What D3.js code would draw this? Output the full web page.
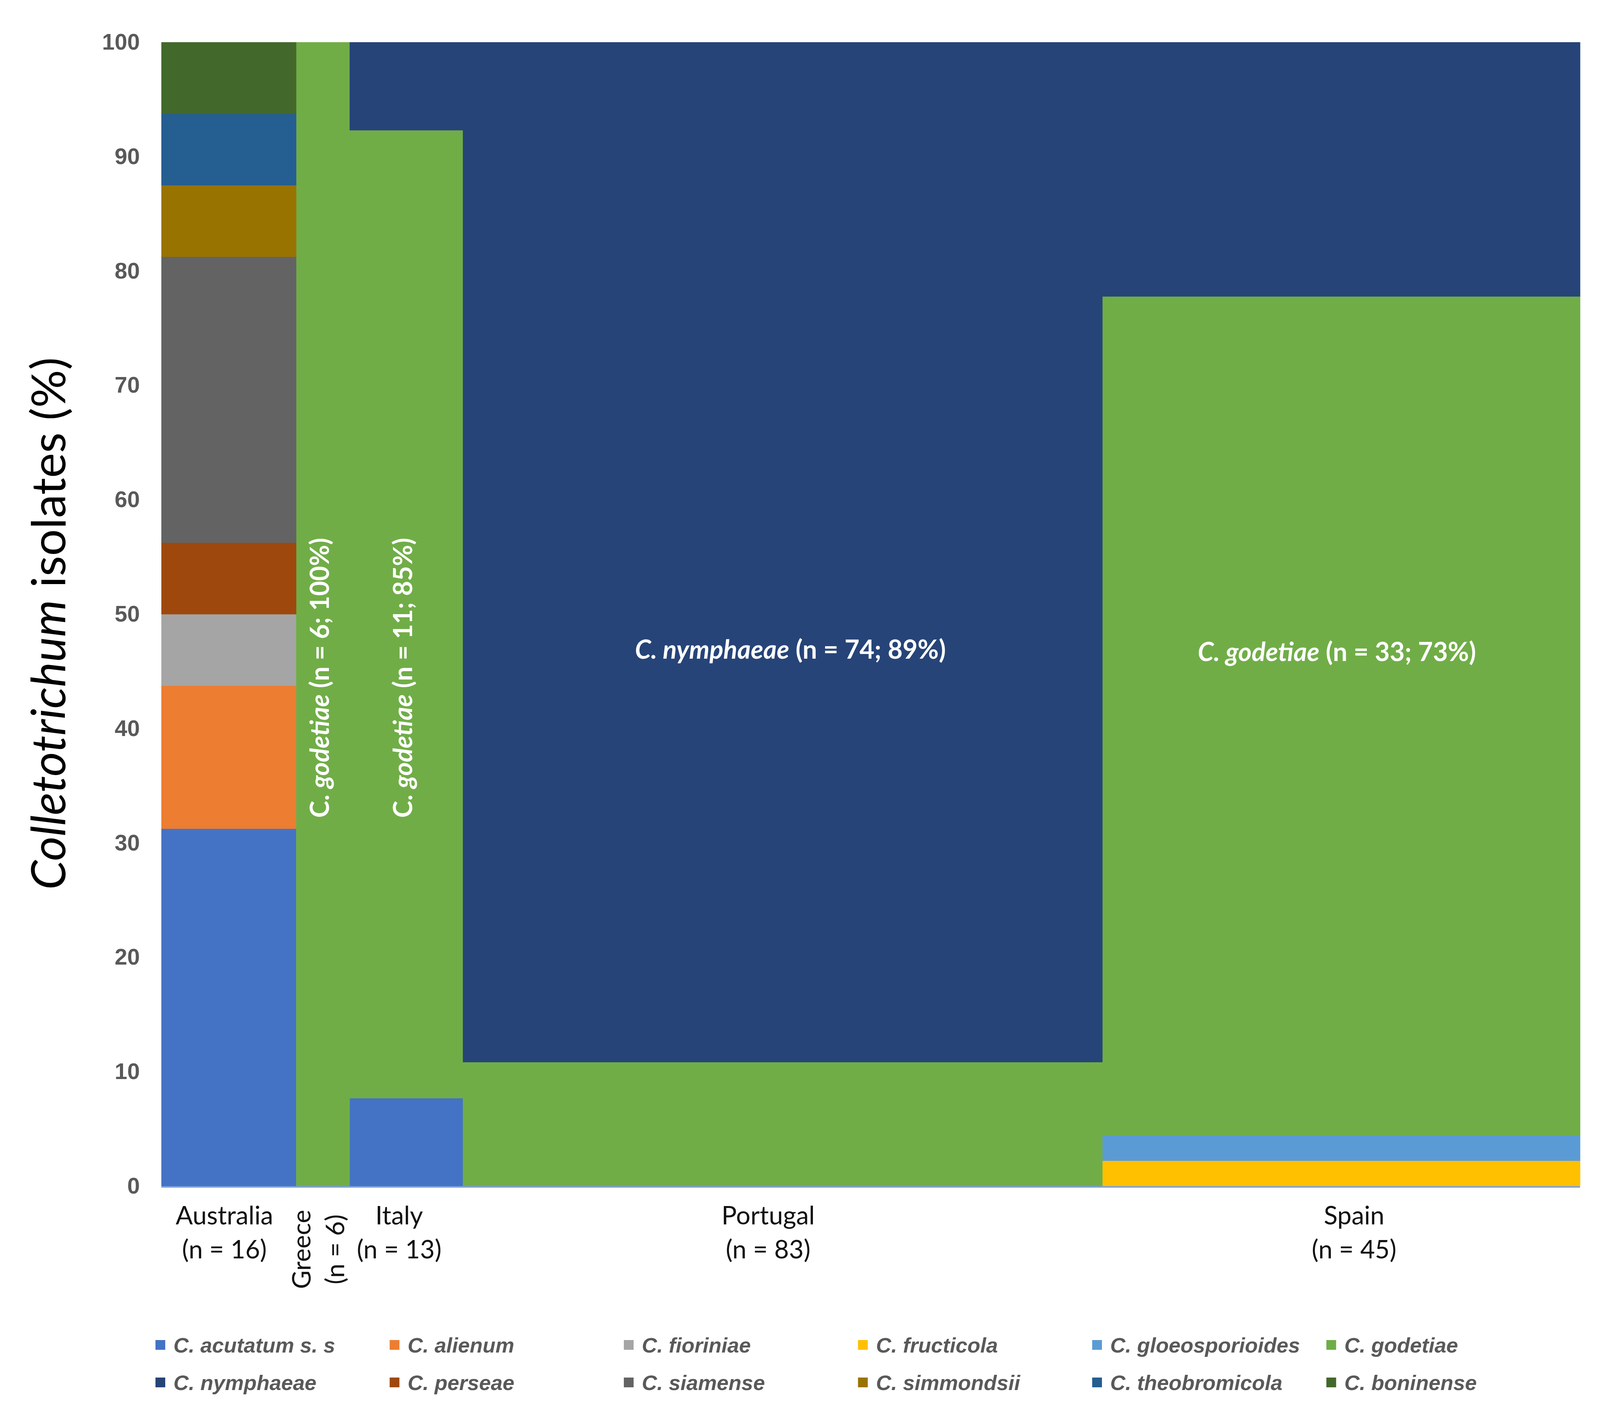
<!DOCTYPE html>
<html>
<head>
<meta charset="utf-8">
<script src="https://cdn.jsdelivr.net/npm/d3@7"></script>
<style>
  body { margin: 0; background: #fff; }
  svg { display: block; }
</style>
</head>
<body>
<svg id="chart" width="4129" height="3627"></svg>
<script>
// countries along the x axis, with their sample sizes
const countries = ['Australia', 'Greece', 'Italy', 'Portugal', 'Spain'];
const countryN = [16, 6, 13, 83, 45];
// column widths as share of the axis (read off the picture, not proportional to n)
const columnShare = [9.50, 3.77, 7.98, 45.07, 33.67];

// species, in stacking / legend order
const species = [
  'C. acutatum s. s', 'C. alienum', 'C. fioriniae', 'C. fructicola',
  'C. gloeosporioides', 'C. godetiae', 'C. nymphaeae', 'C. perseae',
  'C. siamense', 'C. simmondsii', 'C. theobromicola', 'C. boninense'
];
const speciesColors = [
  '#4472C4', '#ED7D31', '#A5A5A5', '#FFC000',
  '#5B9BD5', '#70AD47', '#264478', '#9E480E',
  '#636363', '#997300', '#255E91', '#43682B'
];

// isolate counts: one row per species, one column per country
const isolateCounts = [
  [5, 0, 1, 0, 0],   // acutatum s. s
  [2, 0, 0, 0, 0],   // alienum
  [1, 0, 0, 0, 0],   // fioriniae
  [0, 0, 0, 0, 1],   // fructicola
  [0, 0, 0, 0, 1],   // gloeosporioides
  [0, 6, 11, 9, 33], // godetiae
  [0, 0, 1, 74, 10], // nymphaeae
  [1, 0, 0, 0, 0],   // perseae
  [4, 0, 0, 0, 0],   // siamense
  [1, 0, 0, 0, 0],   // simmondsii
  [1, 0, 0, 0, 0],   // theobromicola
  [1, 0, 0, 0, 0]    // boninense
];

const yTicks = [0, 10, 20, 30, 40, 50, 60, 70, 80, 90, 100];

// in-bar notes
const barNotes = [
  { country: 'Greece', name: 'C. ', italic: 'godetiae', rest: ' (n = 6; 100%)', at: 32.2, vertical: true, dx: 0 },
  { country: 'Italy', name: 'C. ', italic: 'godetiae', rest: ' (n = 11; 85%)', at: 32.2, vertical: true, dx: 0 },
  { country: 'Portugal', name: '', italic: 'C. nymphaeae', rest: ' (n = 74; 89%)', at: 46.1, vertical: false, dx: 20 },
  { country: 'Spain', name: '', italic: 'C. godetiae', rest: ' (n = 33; 73%)', at: 45.9, vertical: false, dx: -11 }
];

// small horizontal shifts of the category labels, as in the original
const labelNudge = [-11, 0, -18, -37, 33];

const svg = d3.select('#chart');
svg.append('rect').attr('width', 4129).attr('height', 3627).attr('fill', '#fff');

const plot = { left: 413, right: 4045, top: 108, bottom: 3036 };

// cumulative column edges
const edges = [0];
columnShare.forEach((s, i) => edges.push(edges[i] + s));

const xScale = d3.scaleLinear()
  .domain([0, d3.sum(columnShare)])
  .range([plot.left, plot.right]);
const yScale = d3.scaleLinear()
  .domain([0, 100])
  .range([plot.bottom, plot.top]);

const colorOf = d3.scaleOrdinal().domain(species).range(speciesColors);

// percentage rows per country
const rows = countries.map((c, ci) => {
  const row = { country: c, idx: ci };
  species.forEach((s, si) => { row[s] = isolateCounts[si][ci] / countryN[ci] * 100; });
  return row;
});

const series = d3.stack().keys(species)(rows);

const bars = svg.append('g');
series.forEach(layer => {
  bars.selectAll(null)
    .data(layer.filter(d => d[1] - d[0] > 0))
    .join('rect')
    .attr('x', d => xScale(edges[d.data.idx]))
    .attr('width', d => xScale(edges[d.data.idx + 1]) - xScale(edges[d.data.idx]) + 0.5)
    .attr('y', d => yScale(d[1]))
    .attr('height', d => yScale(d[0]) - yScale(d[1]) + 0.5)
    .attr('fill', colorOf(layer.key));
});

// x axis line
svg.append('line')
  .attr('x1', plot.left).attr('x2', plot.right)
  .attr('y1', plot.bottom + 2).attr('y2', plot.bottom + 2)
  .attr('stroke', '#7EA1DC').attr('stroke-width', 4);

// y axis
const yAxis = svg.append('g')
  .attr('transform', `translate(${plot.left}, 0)`)
  .call(d3.axisLeft(yScale).tickValues(yTicks).tickSize(0).tickPadding(55));
yAxis.select('.domain').remove();
yAxis.selectAll('text')
  .attr('font-family', '"Liberation Sans", Arial, sans-serif')
  .attr('font-weight', 'bold')
  .attr('font-size', 58)
  .attr('fill', '#595959');

// y axis title
const yTitle = svg.append('text')
  .attr('transform', `translate(167, ${(plot.top + plot.bottom) / 2 + 24}) rotate(-90)`)
  .attr('text-anchor', 'middle')
  .attr('font-family', 'Lato, sans-serif')
  .attr('font-size', 121)
  .attr('fill', '#000');
yTitle.append('tspan').attr('font-style', 'italic').text('Colletotrichum');
yTitle.append('tspan').text(' isolates (%)');

// country labels
const colCenter = i => (xScale(edges[i]) + xScale(edges[i + 1])) / 2;
const xLabels = svg.append('g')
  .attr('font-family', 'Lato, sans-serif')
  .attr('font-size', 65)
  .attr('fill', '#111');
countries.forEach((c, i) => {
  const cx = colCenter(i) + labelNudge[i];
  if (c === 'Greece') {
    [[c, -32], [`(n = ${countryN[i]})`, 54]].forEach(([t, off]) => {
      xLabels.append('text')
        .attr('transform', `translate(${cx + off}, 3198) rotate(-90)`)
        .attr('text-anchor', 'middle')
        .text(t);
    });
  } else {
    xLabels.append('text').attr('x', cx).attr('y', 3134).attr('text-anchor', 'middle').text(c);
    xLabels.append('text').attr('x', cx).attr('y', 3221).attr('text-anchor', 'middle').text(`(n = ${countryN[i]})`);
  }
});

// notes inside bars
barNotes.forEach(n => {
  const i = countries.indexOf(n.country);
  const cx = colCenter(i) + n.dx;
  const t = svg.append('text')
    .attr('font-family', 'Lato, sans-serif')
    .attr('font-weight', 'bold')
    .attr('font-size', 66)
    .attr('fill', '#fff');
  if (n.vertical) {
    t.attr('transform', `translate(${cx + 15}, ${yScale(n.at)}) rotate(-90)`)
      .attr('text-anchor', 'start');
  } else {
    t.attr('x', cx).attr('y', yScale(n.at)).attr('text-anchor', 'middle');
  }
  if (n.name) t.append('tspan').text(n.name);
  t.append('tspan').attr('font-style', 'italic').text(n.italic);
  t.append('tspan').text(n.rest);
});

// legend, two rows of six
const legend = svg.append('g')
  .attr('font-family', '"Liberation Sans", Arial, sans-serif')
  .attr('font-weight', 'bold')
  .attr('font-style', 'italic')
  .attr('font-size', 54)
  .attr('fill', '#595959');
species.forEach((s, i) => {
  const col = i % 6, row = Math.floor(i / 6);
  const lx = 398 + col * 599.5;
  const ly = 3443 + row * 96;
  legend.append('rect')
    .attr('x', lx).attr('y', ly - 13)
    .attr('width', 25).attr('height', 25)
    .attr('fill', speciesColors[i]);
  legend.append('text')
    .attr('x', lx + 46).attr('y', ly)
    .attr('dy', '0.35em')
    .text(s);
});
</script>
</body>
</html>
